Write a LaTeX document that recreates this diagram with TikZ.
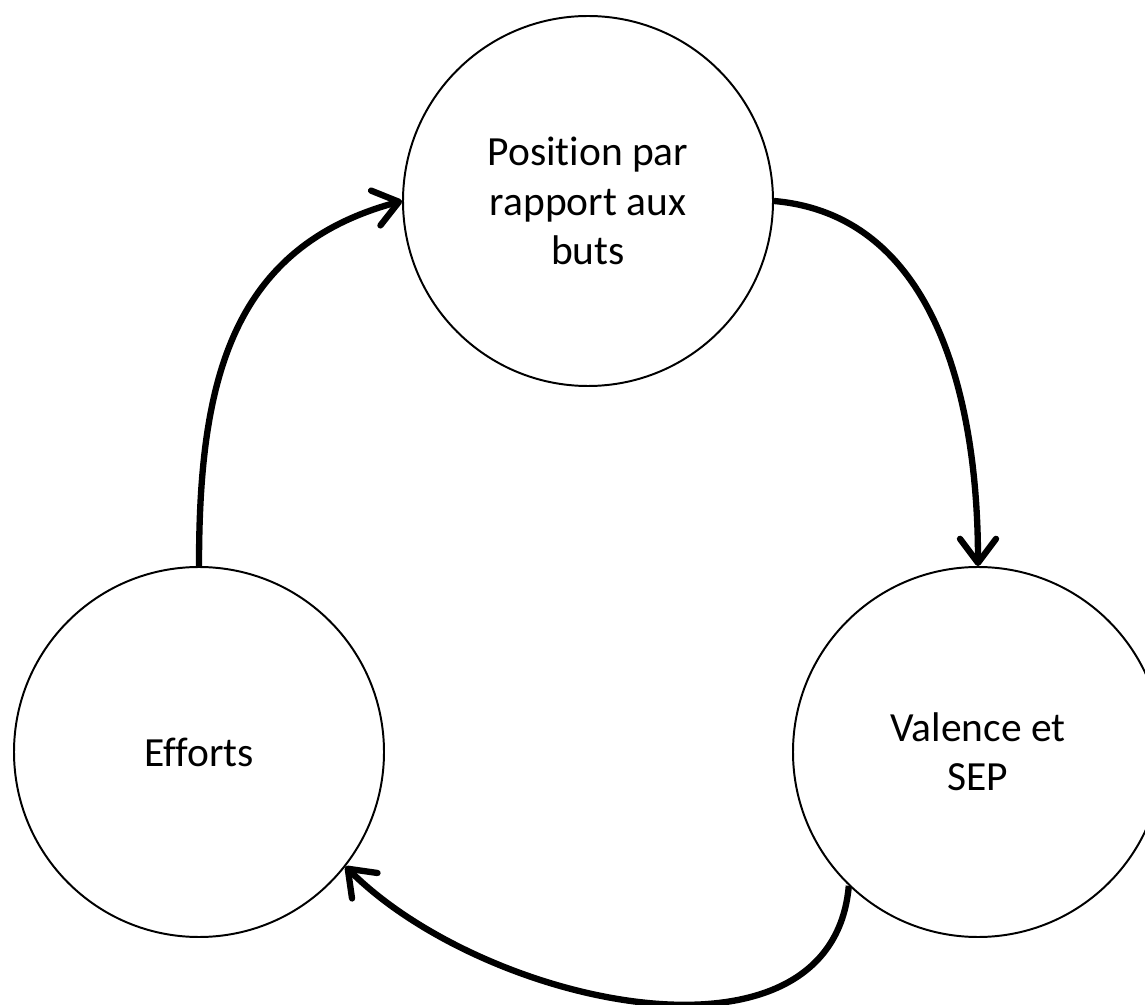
\documentclass[tikz,border=0pt]{standalone}
\usepackage{fontspec}
\setmainfont[Ligatures=NoCommon]{Carlito}
\usetikzlibrary{arrows.meta}

\begin{document}
\begin{tikzpicture}[
    etape/.style={draw, circle, line width=1.4pt,
        minimum size=9.25cm, inner sep=0pt,
        font=\fontsize{29.5}{35}\selectfont, align=center},
    fleche/.style={line width=4.5pt,
        -{Straight Barb[length=6mm, width=9mm, round]}}
    ]
    \useasboundingbox (0,0) rectangle (28.625,-25.125);
    \node[etape] (pos) at (14.7,-5.025) {Position par\\ rapport aux\\ buts};
    \node[etape] (val) at (24.45,-18.8) {Valence et\\ SEP};
    \node[etape] (eff) at (4.975,-18.8) {Efforts};

    \draw[fleche] (eff.north) to[out=90, in=195, looseness=1.1] (pos.west);
    \draw[fleche] (pos.east) to[out=-5, in=90] (val.north);
    \draw[fleche] (val.226) to[out=-95, in=-45] (eff.-38);
\end{tikzpicture}
\end{document}
